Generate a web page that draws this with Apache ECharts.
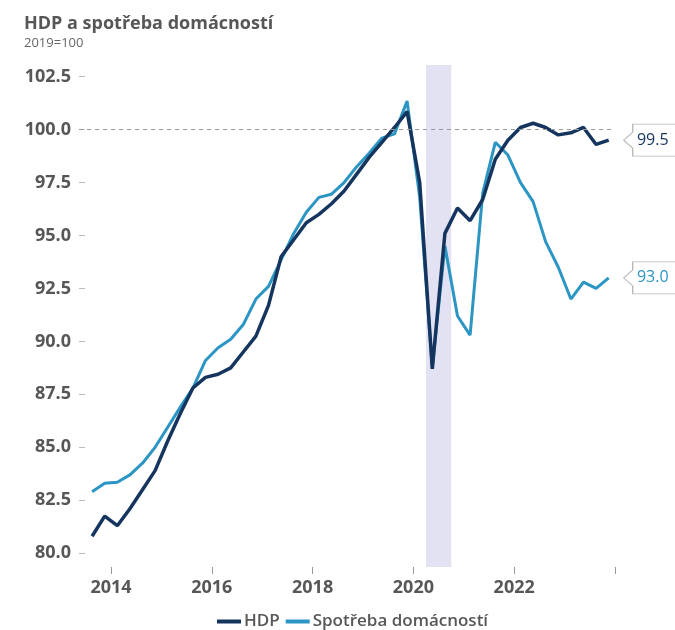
<!DOCTYPE html>
<html>
<head>
<meta charset="utf-8">
<script src="https://cdn.jsdelivr.net/npm/echarts@6/dist/echarts.min.js"></script>
<style>
  html, body { margin: 0; padding: 0; background: #fff; }
  #chart { width: 675px; height: 630px; }
</style>
</head>
<body>
<div id="chart"></div>
<script>
// čtvrtletí 2013Q3 .. 2023Q4
const quarters = [
  '2013Q3','2013Q4',
  '2014Q1','2014Q2','2014Q3','2014Q4',
  '2015Q1','2015Q2','2015Q3','2015Q4',
  '2016Q1','2016Q2','2016Q3','2016Q4',
  '2017Q1','2017Q2','2017Q3','2017Q4',
  '2018Q1','2018Q2','2018Q3','2018Q4',
  '2019Q1','2019Q2','2019Q3','2019Q4',
  '2020Q1','2020Q2','2020Q3','2020Q4',
  '2021Q1','2021Q2','2021Q3','2021Q4',
  '2022Q1','2022Q2','2022Q3','2022Q4',
  '2023Q1','2023Q2','2023Q3','2023Q4'
];
const hdp = [
  80.8, 81.75,
  81.3, 82.1, 83.0, 83.9,
  85.3, 86.6, 87.8, 88.3,
  88.45, 88.75, 89.5, 90.25,
  91.7, 94.0, 94.8, 95.6,
  96.0, 96.5, 97.1, 97.9,
  98.7, 99.4, 100.1, 100.85,
  97.5, 88.7, 95.1, 96.3,
  95.7, 96.7, 98.6, 99.5,
  100.1, 100.3, 100.1, 99.75,
  99.85, 100.1, 99.3, 99.5
];
const spotreba = [
  82.9, 83.3,
  83.35, 83.7, 84.25, 85.0,
  85.95, 86.9, 87.8, 89.1,
  89.7, 90.1, 90.8, 92.0,
  92.6, 93.85, 95.1, 96.1,
  96.8, 96.95, 97.5, 98.25,
  98.9, 99.6, 99.8, 101.35,
  96.8, 88.8, 94.5, 91.2,
  90.3, 97.0, 99.4, 98.8,
  97.5, 96.6, 94.7, 93.5,
  92.0, 92.8, 92.5, 93.0
];
const yearTicks = [2014, 2016, 2018, 2020, 2022, 2024];
const yearLabels = [2014, 2016, 2018, 2020, 2022];
const valueTicks = [80, 82.5, 85, 87.5, 90, 92.5, 95, 97.5, 100, 102.5];
const covidBand = [2020.25, 2020.75];
const baseLine = 100;

const HDP_COLOR = '#15355f';
const SPOT_COLOR = '#2b95c4';
const TEXT = '#575757';
const FONT = '"Open Sans", "Noto Sans", sans-serif';

// střed čtvrtletí jako desetinný rok
const qx = q => +q.slice(0, 4) + (+q.slice(5) - 1) * 0.25 + 0.125;
const pairs = vals => quarters.map((q, i) => [qx(q), vals[i]]);

// tvar štítku se šipkou vlevo
const callout = 'path://M9,0 L60,0 L60,32 L9,32 L9,24 L0,16 L9,8 Z';

function endPoint(vals, color) {
  const last = vals.length - 1;
  return {
    silent: true,
    symbol: callout,
    symbolSize: [60, 32],
    symbolKeepAspect: false,
    symbolOffset: [45, 0],
    itemStyle: { color: '#fff', borderColor: '#b8b8b8', borderWidth: 1 },
    label: {
      show: true,
      position: 'inside',
      offset: [-1, 0],
      color: color,
      fontFamily: FONT,
      fontSize: 16,
      formatter: () => vals[last].toFixed(1)
    },
    data: [{ coord: [qx(quarters[last]), vals[last]] }]
  };
}

let myChart = echarts.init(document.getElementById('chart'));
myChart.setOption({
  animation: false,
  title: {
    text: 'HDP a spotřeba domácností',
    subtext: '2019=100',
    left: 19,
    top: 10,
    itemGap: 4,
    textStyle: { fontFamily: FONT, fontSize: 18, fontWeight: 'bold', color: TEXT },
    subtextStyle: { fontFamily: FONT, fontSize: 13, color: '#666' }
  },
  legend: {
    data: ['HDP', 'Spotřeba domácností'],
    left: 212,
    top: 608,
    itemWidth: 24,
    itemHeight: 4,
    itemGap: 6,
    icon: 'rect',
    textStyle: { fontFamily: FONT, fontSize: 17, fontWeight: 600, color: TEXT, padding: [0, 0, 0, -2] }
  },
  grid: { left: 79, right: 60, top: 65, bottom: 63 },
  xAxis: {
    type: 'value',
    min: 2013.365,
    max: 2024,
    axisLine: { show: false },
    splitLine: { show: false },
    axisTick: {
      show: true,
      length: 7,
      customValues: yearTicks,
      lineStyle: { color: '#999' }
    },
    axisLabel: {
      customValues: yearLabels,
      margin: 12,
      formatter: v => String(v),
      fontFamily: FONT,
      fontSize: 18,
      fontWeight: 'bold',
      color: TEXT
    }
  },
  yAxis: {
    type: 'value',
    min: 79.35,
    max: 103.05,
    axisLine: { show: false },
    splitLine: { show: false },
    axisTick: {
      show: true,
      inside: true,
      length: 6,
      customValues: valueTicks,
      lineStyle: { color: '#bbb' }
    },
    axisLabel: {
      customValues: valueTicks,
      margin: 8,
      formatter: v => v.toFixed(1),
      fontFamily: FONT,
      fontSize: 18,
      fontWeight: 'bold',
      color: TEXT
    }
  },
  series: [
    {
      name: 'band',
      type: 'line',
      data: [],
      z: 0,
      silent: true,
      markArea: {
        silent: true,
        itemStyle: { color: '#e2e2f2' },
        data: [[{ xAxis: covidBand[0] }, { xAxis: covidBand[1] }]]
      },
      markLine: {
        silent: true,
        symbol: 'none',
        label: { show: false },
        lineStyle: { color: '#999', type: [4, 4], width: 1 },
        data: [{ yAxis: baseLine }]
      }
    },
    {
      name: 'Spotřeba domácností',
      type: 'line',
      data: pairs(spotreba),
      z: 2,
      clip: false,
      showSymbol: false,
      lineStyle: { color: SPOT_COLOR, width: 3 },
      itemStyle: { color: SPOT_COLOR },
      markPoint: endPoint(spotreba, SPOT_COLOR)
    },
    {
      name: 'HDP',
      type: 'line',
      data: pairs(hdp),
      z: 3,
      clip: false,
      showSymbol: false,
      lineStyle: { color: HDP_COLOR, width: 3.5 },
      itemStyle: { color: HDP_COLOR },
      markPoint: endPoint(hdp, HDP_COLOR)
    }
  ]
});
</script>
</body>
</html>
